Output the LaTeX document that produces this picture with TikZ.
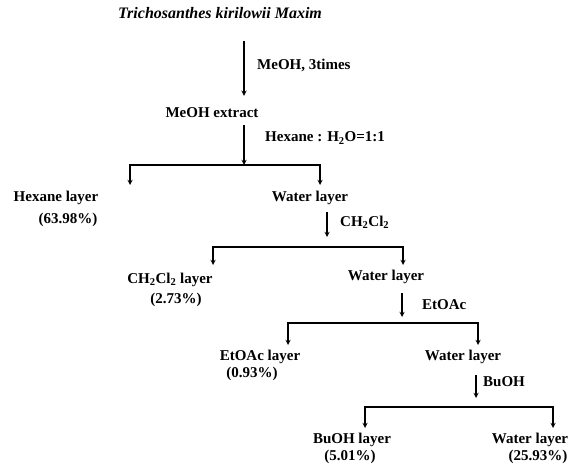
\documentclass[tikz,border=0pt]{standalone}
\usepackage{fontspec}
\setmainfont{Liberation Serif}
\usetikzlibrary{arrows,positioning}

\tikzset{
  txt/.style={inner sep=0pt, font=\fontsize{15}{17}\selectfont\bfseries},
  flow/.style={draw, line width=1.3pt, -stealth},
}

\begin{document}
\begin{tikzpicture}[x=1pt,y=-1pt]
\useasboundingbox (0,0) rectangle (576,468);

\node[txt, font=\fontsize{16}{18}\selectfont] (plant) at (220,13) {\textbf{\textit{Trichosanthes kirilowii Maxim}}};
\node[txt] (extract) at (212,113) {MeOH extract};
\node[txt] (hexane) at (56,198) {Hexane layer};
\node[txt, below=8pt of hexane, xshift=12pt] (hexanepct) {(63.98\%)};
\node[txt] (water1) at (310,198) {Water layer};
\node[txt] (dcm) at (170,280) {CH\textsubscript{2}Cl\textsubscript{2} layer};
\node[txt, below=6pt of dcm, xshift=6pt] (dcmpct) {(2.73\%)};
\node[txt] (water2) at (386,277) {Water layer};
\node[txt] (etoac) at (260,357) {EtOAc layer};
\node[txt, below=3pt of etoac, xshift=-8pt] (etoacpct) {(0.93\%)};
\node[txt] (water3) at (463,357) {Water layer};
\node[txt] (buoh) at (352,440) {BuOH layer};
\node[txt, below=3pt of buoh, xshift=-2pt] (buohpct) {(5.01\%)};
\node[txt] (water4) at (530,440) {Water layer};
\node[txt, below=3pt of water4, xshift=8pt] (water4pct) {(25.93\%)};

%solvents
\node[txt, anchor=west] (meoh) at (257,65) {MeOH, 3times};
\node[txt, anchor=west] (hexh2o) at (265,138) {Hexane : H\textsubscript{2}O=1:1};
\node[txt, anchor=west] (ch2cl2) at (340,222) {CH\textsubscript{2}Cl\textsubscript{2}};
\node[txt, anchor=west] (etoacsolv) at (422,305) {EtOAc};
\node[txt, anchor=west] (buohsolv) at (483,382) {BuOH};

\coordinate (s1) at (244,165);
\coordinate (s2) at (327,247);
\coordinate (s3) at (402,323);
\coordinate (s4) at (476,407);
\coordinate (hexanein) at (130,185);
\coordinate (water1in) at (320,185);
\coordinate (dcmin) at (213,265);
\coordinate (water2in) at (403,265);
\coordinate (etoacin) at (288,345);
\coordinate (water3in) at (478,345);
\coordinate (buohin) at (365,428);
\coordinate (water4in) at (553,428);

\draw[flow, shorten <=22pt, shorten >=12pt] (plant.south -| s1) -- (extract.north -| s1);
\draw[flow, shorten <=7pt] (extract.south -| s1) -- (s1);
\draw[flow] (s1) -| (hexanein);
\draw[flow] (s1) -| (water1in);
\draw[flow, shorten <=7pt, shorten >=10pt] (water1.south -| s2) -- (s2);
\draw[flow] (s2) -| (dcmin);
\draw[flow] (s2) -| (water2in);
\draw[flow, shorten <=9pt, shorten >=6pt] (water2.south -| s3) -- (s3);
\draw[flow] (s3) -| (etoacin);
\draw[flow] (s3) -| (water3in);
\draw[flow, shorten <=11pt, shorten >=9pt] (water3.south -| s4) -- (s4);
\draw[flow] (s4) -| (buohin);
\draw[flow] (s4) -| (water4in);
\end{tikzpicture}
\end{document}
